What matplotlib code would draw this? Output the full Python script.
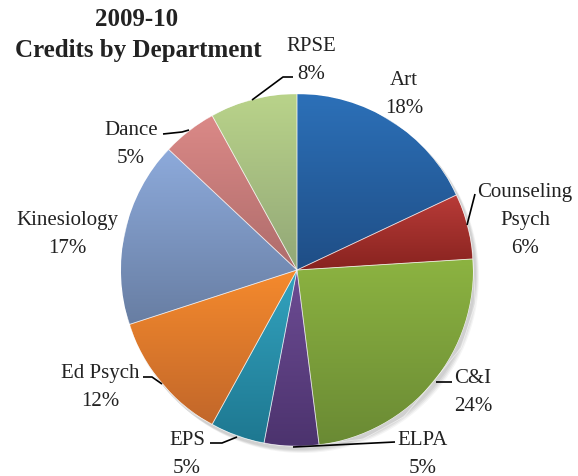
import matplotlib
matplotlib.use("Agg")
import matplotlib.pyplot as plt
import numpy as np
from matplotlib.colors import to_rgb
from matplotlib.patches import Circle

# ---- data ----
departments = ["Art", "Counseling\nPsych", "C&I", "ELPA", "EPS", "Ed Psych",
               "Kinesiology", "Dance", "RPSE"]
percents = [18, 6, 24, 5, 5, 12, 17, 5, 8]

# ---- styles ----
top_colors = ["#2C70B8", "#B83B38", "#8CB341", "#6D4C94", "#33A3BF", "#F58A2D",
              "#8DAADB", "#DB8987", "#B9D38A"]
bot_colors = ["#1F4E86", "#88231F", "#6A8A34", "#4C336E", "#1E7891", "#C2672A",
              "#687EA3", "#AE6C6B", "#92A777"]

W, H = 578, 477
fig = plt.figure(figsize=(W / 100, H / 100), dpi=100)
ax = fig.add_axes([0, 0, 1, 1])

def Y(y):
    return H - y

cx, cy, R = 297, Y(271), 176

# soft shadow
for i, a in enumerate([0.05, 0.05, 0.05, 0.04]):
    ax.add_patch(Circle((cx + 2 + i, cy - 3 - i), R + 1, color="black",
                        alpha=a, lw=0, zorder=0))

wedges, _ = ax.pie(percents, center=(cx, cy), radius=R, startangle=90,
                   counterclock=False, colors=top_colors, frame=True,
                   wedgeprops=dict(linewidth=0.6, edgecolor="white"))
ax.set_xlim(0, W)
ax.set_ylim(0, H)
ax.set_aspect("equal")
ax.axis("off")

for w, tc, bc in zip(wedges, top_colors, bot_colors):
    ext = w.get_path().get_extents()
    t = np.array(to_rgb(tc))
    b = np.array(to_rgb(bc))
    n = 64
    s = np.linspace(0, 1, n)[:, None]
    grad = (t[None, :] * (1 - s) + b[None, :] * s)[:, None, :]
    im = ax.imshow(grad, extent=[ext.x0, ext.x1, ext.y0, ext.y1],
                   origin="upper", aspect="auto", zorder=1.5,
                   interpolation="bilinear")
    im.set_clip_path(w)
    w.set_zorder(1)
ax.set_xlim(0, W)
ax.set_ylim(0, H)

# edges on top
for w in wedges:
    ax.add_patch(plt.Polygon(w.get_path().vertices, closed=True, fill=False,
                             ec=(1, 1, 1, 0.5), lw=0.6, zorder=2))

font = "Liberation Serif"
tcol = "#222222"

ax.text(137, Y(26), "2009-10", ha="center", va="baseline", fontsize=18,
        fontweight="bold", family=font, color=tcol)
ax.text(138, Y(57), "Credits by Department", ha="center", va="baseline",
        fontsize=18, fontweight="bold", family=font, color=tcol)

# label anchor (center x, first baseline y) per department
label_pos = [(404, 85), (525, 197), (473, 383), (423, 445), (187, 445),
             (100, 378), (67, 225), (131, 135), (311, 51)]
line_h = 28
for name, p, (lx, ly) in zip(departments, percents, label_pos):
    lines = name.split("\n") + [f"{p}%"]
    for k, s in enumerate(lines):
        ax.text(lx, Y(ly + k * line_h), s, ha="center", va="baseline",
                fontsize=15, family=font, color=tcol, zorder=5)

leaders = [
    [(252, 101), (283, 78), (293, 78)],
    [(467, 226), (475, 195)],
    [(436, 383), (452, 383)],
    [(293, 448), (395, 443)],
    [(210, 444), (222, 444), (237, 438)],
    [(143, 378), (152, 378), (162, 385)],
    [(163, 135), (182, 133), (189, 131)],
]
for pts in leaders:
    xs = [p[0] for p in pts]
    ys = [Y(p[1]) for p in pts]
    ax.plot(xs, ys, color="black", lw=1.2, zorder=4, solid_capstyle="butt")

fig.savefig("out.png", dpi=100)
